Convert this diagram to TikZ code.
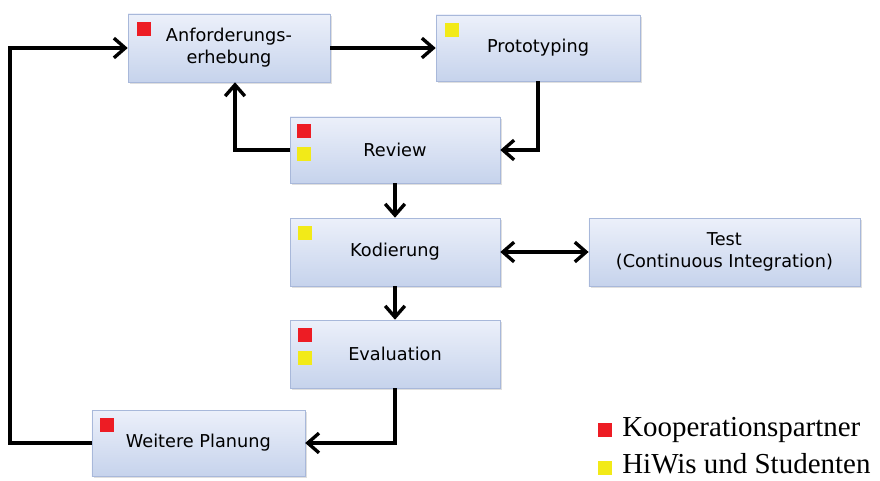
\documentclass[tikz,border=0pt]{standalone}
\usepackage{fontspec}
\newfontfamily\boxfont{DejaVu Sans}
\newfontfamily\legendfont{Liberation Serif}
\usepackage{tikz}
\usetikzlibrary{arrows.meta, positioning, shadows}
\usepackage{xcolor}
\definecolor{boxtop}{RGB}{236,240,250}
\definecolor{boxbot}{RGB}{198,211,236}
\definecolor{boxedge}{RGB}{168,184,218}
\definecolor{partnerred}{RGB}{237,28,36}
\definecolor{hiwiyellow}{RGB}{242,234,24}

\begin{document}
\begin{tikzpicture}[
    phase/.style={draw=boxedge, top color=boxtop, bottom color=boxbot,
                  minimum width=5.25cm, minimum height=1.7cm, align=center,
                  font=\boxfont\fontsize{12.6}{15.6}\selectfont,
                  drop shadow={opacity=0.25, shadow xshift=1.5pt, shadow yshift=-1.5pt}},
    mark red/.style={fill=partnerred, minimum size=0.35cm, inner sep=0pt},
    mark yellow/.style={fill=hiwiyellow, minimum size=0.35cm, inner sep=0pt},
    barb/.tip={Straight Barb[length=8pt, width=14pt, line width=2.4pt]},
    arr/.style={-barb, line width=2.4pt},
    legend/.style={font=\legendfont\fontsize{20.6}{24}\selectfont, anchor=west, inner sep=0pt}
  ]
    \useasboundingbox (0,0) rectangle (22,12);

    %% PHASES
    \node[phase, minimum width=5.05cm] (anf) at (5.725,10.8)
      {Anforderungs-\\erhebung};
    \node[phase, minimum width=5.1cm, minimum height=1.65cm] (proto) at (13.45,10.8)
      {Prototyping};
    \node[phase, minimum height=1.65cm] (review) at (9.875,8.25) {Review};
    \node[phase] (kod) at (9.875,5.7) {Kodierung};
    \node[phase, minimum width=6.775cm] (test) at (18.11,5.7)
      {Test\\(Continuous Integration)};
    \node[phase] (eval) at (9.875,3.15) {Evaluation};
    \node[phase, minimum width=5.325cm, minimum height=1.65cm] (plan) at (4.96,0.925)
      {Weitere Planung};

    %% MARKERS
    \node[mark red, below right=0.2cm and 0.22cm of anf.north west] (anfr) {};
    \node[mark yellow, below right=0.2cm and 0.22cm of proto.north west] (protoy) {};
    \node[mark red, below right=0.18cm and 0.18cm of review.north west] (reviewr) {};
    \node[mark yellow, below=0.2cm of reviewr] (reviewy) {};
    \node[mark yellow, below right=0.2cm and 0.2cm of kod.north west] (kody) {};
    \node[mark red, below right=0.2cm and 0.2cm of eval.north west] (evalr) {};
    \node[mark yellow, below=0.2cm of evalr] (evaly) {};
    \node[mark red, below right=0.2cm and 0.2cm of plan.north west] (planr) {};

    %% ARROWS
    \coordinate (loop) at (0.25,0);
    \draw[arr] (anf) -- (proto);
    \draw[arr] (proto.south) |- (review.east);
    \draw[arr] (review.west) -| ([xshift=0.15cm]anf.south);
    \draw[arr] (review) -- (kod);
    \draw[arr, barb-barb] (kod) -- (test);
    \draw[arr] (kod) -- (eval);
    \draw[arr] (eval.south) |- (plan.east);
    \draw[arr] (plan.west) -- (plan.west -| loop) |- (anf.west);

    %% LEGEND
    \node[mark red] (lgred) at (15.125,1.25) {};
    \node[legend] (lgkoop) at (15.55,1.25) {Kooperationspartner};
    \node[mark yellow] (lgyellow) at (15.125,0.3) {};
    \node[legend] (lghiwi) at (15.55,0.42) {HiWis und Studenten};
  \end{tikzpicture}
\end{document}
